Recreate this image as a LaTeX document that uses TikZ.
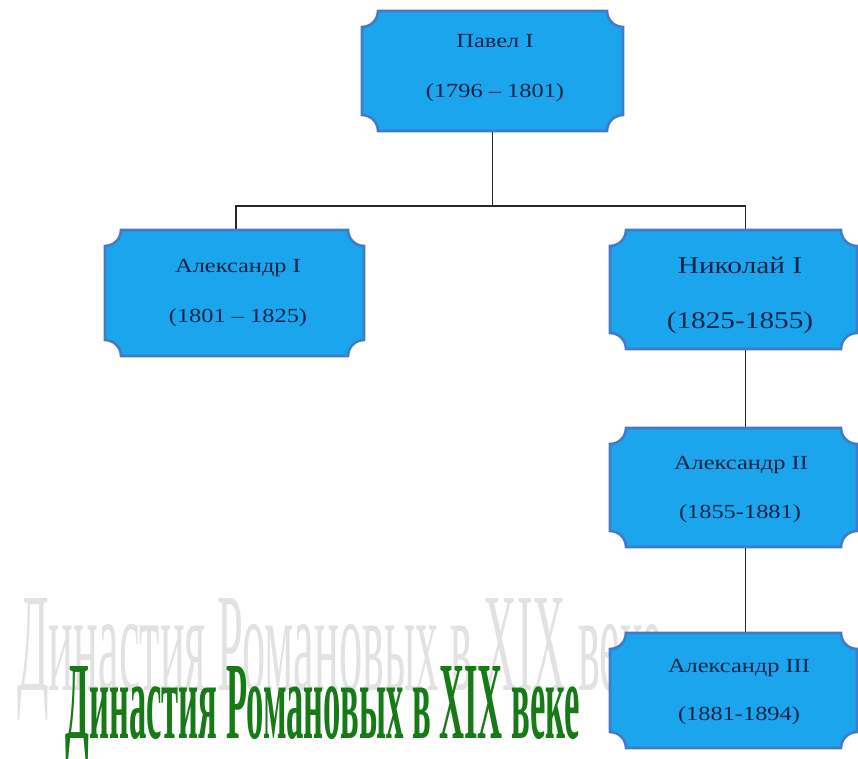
\documentclass[tikz,border=0pt]{standalone}
\usepackage{fontspec}
\setmainfont{Liberation Serif}
\newfontfamily\boxfont[FakeStretch=1.22]{Liberation Serif}
\usepackage{graphicx}
\usetikzlibrary{calc}
\definecolor{boxfill}{RGB}{26,165,236}
\definecolor{boxline}{RGB}{66,124,200}
\definecolor{boxshadow}{RGB}{52,98,168}
\definecolor{boxtext}{RGB}{20,36,72}
\definecolor{titlegreen}{RGB}{22,122,22}
\definecolor{ghostgray}{RGB}{226,226,226}
\definecolor{wire}{RGB}{40,40,40}
\newcommand\plaqueoutline[2]{%
  \path[#2] ($(#1.south west)+(0,12pt)$) arc[start angle=90,end angle=0,radius=12pt]
    -- ($(#1.south east)-(12pt,0)$) arc[start angle=180,end angle=90,radius=12pt]
    -- ($(#1.north east)-(0,12pt)$) arc[start angle=270,end angle=180,radius=12pt]
    -- ($(#1.north west)+(12pt,0)$) arc[start angle=0,end angle=-90,radius=12pt]
    -- cycle;}
\newcommand\plaque[1]{%
  \plaqueoutline{#1}{fill=boxshadow,yshift=-2pt}%
  \plaqueoutline{#1}{fill=boxfill,draw=boxline,line width=2pt}}
\begin{document}
\begin{tikzpicture}[x=0.75pt,y=-0.75pt,
  boxgeom/.style={inner sep=0pt,outer sep=0pt,draw=none},
  nm/.style={inner sep=0pt,anchor=base,text=boxtext,font=\boxfont\fontsize{15pt}{18pt}\selectfont},
  nmbig/.style={nm,font=\boxfont\fontsize{18pt}{22pt}\selectfont},
  wirestyle/.style={draw=wire,line width=1.4pt}]
\useasboundingbox (0,0) rectangle (858,758);
% title with its ghost
\node[anchor=base west,inner sep=0pt] (ghost) at (17,690)
  {\color{ghostgray}\resizebox{483.75pt}{69pt}{Династия Романовых в XIX веке}};
\node[anchor=base west,inner sep=0pt] (title) at (65,738)
  {\color{titlegreen}\resizebox{386.25pt}{54pt}{\bfseries Династия Романовых в XIX веке}};
% box geometry
\node[boxgeom,minimum width=195.75pt,minimum height=90pt] (pavel) at (492.5,71) {};
\node[boxgeom,minimum width=194.25pt,minimum height=94.5pt] (alexA) at (234.5,293) {};
\node[boxgeom,minimum width=185.25pt,minimum height=89.25pt] (nik) at (733.5,289.5) {};
\node[boxgeom,minimum width=185.25pt,minimum height=89.25pt] (alexB) at (733.5,487.5) {};
\node[boxgeom,minimum width=185.25pt,minimum height=86.25pt] (alexC) at (733.5,690.5) {};
% connectors
\coordinate (jn) at (492.5,206);
\draw[wirestyle] (pavel.south) -- (jn);
\draw[wirestyle] ([xshift=1pt]alexA.north) |- (jn) -| ([xshift=9pt]nik.north);
\draw[wirestyle] ([xshift=9pt]nik.south) -- ([xshift=9pt]alexB.north);
\draw[wirestyle] ([xshift=9pt]alexB.south) -- ([xshift=9pt]alexC.north);
% plaques
\plaque{pavel}
\plaque{alexA}
\plaque{nik}
\plaque{alexB}
\plaque{alexC}
% texts
\node[nm] (pavelN) at (495,47) {Павел I};
\node[nm] (pavelY) at (495,97) {(1796 – 1801)};
\node[nm] (alexAN) at (238,272) {Александр I};
\node[nm] (alexAY) at (238,322) {(1801 – 1825)};
\node[nmbig] (nikN) at (740,273) {Николай I};
\node[nmbig] (nikY) at (740,328) {(1825-1855)};
\node[nm] (alexBN) at (741,469) {Александр II};
\node[nm] (alexBY) at (740,518) {(1855-1881)};
\node[nm] (alexCN) at (739,672) {Александр III};
\node[nm] (alexCY) at (739,720) {(1881-1894)};
\end{tikzpicture}
\end{document}
